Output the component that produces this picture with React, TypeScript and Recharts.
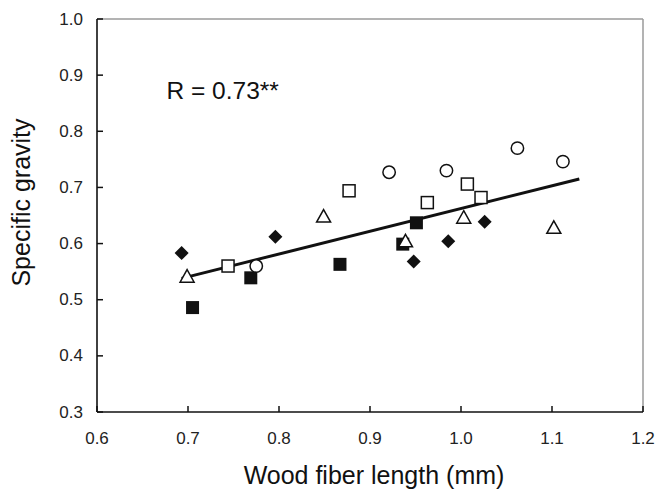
import React from 'react';
import {
  ScatterChart,
  Scatter,
  XAxis,
  YAxis,
  ReferenceLine,
  Label,
  Customized,
} from 'recharts';

const filledDiamonds = [
  { x: 0.693, y: 0.583 },
  { x: 0.796, y: 0.612 },
  { x: 0.948, y: 0.568 },
  { x: 0.986, y: 0.604 },
  { x: 1.026, y: 0.639 },
];

const filledSquares = [
  { x: 0.705, y: 0.486 },
  { x: 0.769, y: 0.539 },
  { x: 0.867, y: 0.563 },
  { x: 0.936, y: 0.599 },
  { x: 0.951, y: 0.637 },
];

const openSquares = [
  { x: 0.744, y: 0.56 },
  { x: 0.877, y: 0.694 },
  { x: 0.963, y: 0.673 },
  { x: 1.007, y: 0.706 },
  { x: 1.022, y: 0.682 },
];

const openCircles = [
  { x: 0.775, y: 0.56 },
  { x: 0.921, y: 0.727 },
  { x: 0.984, y: 0.73 },
  { x: 1.062, y: 0.77 },
  { x: 1.112, y: 0.746 },
];

const openTriangles = [
  { x: 0.699, y: 0.542 },
  { x: 0.849, y: 0.649 },
  { x: 0.939, y: 0.605 },
  { x: 1.003, y: 0.647 },
  { x: 1.102, y: 0.629 },
];

// regression line end points
const fitLine = [
  { x: 0.693, y: 0.538 },
  { x: 1.13, y: 0.715 },
];

const xTicks = [0.6, 0.7, 0.8, 0.9, 1.0, 1.1, 1.2];
const yTicks = [0.3, 0.4, 0.5, 0.6, 0.7, 0.8, 0.9, 1.0];

const FONT = '"Liberation Sans", Arial, sans-serif';
const INK = '#111';

const FilledDiamond = ({ cx, cy }: any) => (
  <polygon
    points={`${cx},${cy - 7} ${cx + 7},${cy} ${cx},${cy + 7} ${cx - 7},${cy}`}
    fill={INK}
  />
);

const FilledSquare = ({ cx, cy }: any) => (
  <rect x={cx - 6.5} y={cy - 6.5} width={13} height={13} fill={INK} />
);

const OpenSquare = ({ cx, cy }: any) => (
  <rect
    x={cx - 6}
    y={cy - 6}
    width={12}
    height={12}
    fill="#fff"
    stroke={INK}
    strokeWidth={1.5}
  />
);

const OpenCircle = ({ cx, cy }: any) => (
  <circle cx={cx} cy={cy} r={6.2} fill="#fff" stroke={INK} strokeWidth={1.5} />
);

const OpenTriangle = ({ cx, cy }: any) => (
  <polygon
    points={`${cx},${cy - 6.5} ${cx + 7},${cy + 6} ${cx - 7},${cy + 6}`}
    fill="#fff"
    stroke={INK}
    strokeWidth={1.5}
    strokeLinejoin="miter"
  />
);

const XTick = ({ x, y, payload }: any) => (
  <g>
    <line x1={x} y1={y} x2={x} y2={y - 6} stroke={INK} strokeWidth={1.5} />
    <text
      x={x}
      y={y + 32}
      textAnchor="middle"
      fontSize={17}
      fontFamily={FONT}
      fill="#222"
    >
      {Number(payload.value).toFixed(1)}
    </text>
  </g>
);

const YTick = ({ x, y, payload }: any) => (
  <g>
    <line x1={x} y1={y} x2={x + 6} y2={y} stroke={INK} strokeWidth={1.5} />
    <text
      x={x - 14}
      y={y + 5.5}
      textAnchor="end"
      fontSize={17}
      fontFamily={FONT}
      fill="#222"
    >
      {Number(payload.value).toFixed(1)}
    </text>
  </g>
);

const Annotation = () => (
  <text x={166.5} y={98.5} fontSize={24.5} fontFamily={FONT} fill={INK}>
    R = 0.73**
  </text>
);

export default function App() {
  return (
    <div style={{ position: 'absolute', left: 0, top: 0, background: '#fff' }}>
      <ScatterChart
        width={660}
        height={493}
        margin={{ top: 19, right: 17, bottom: 0, left: 0 }}
      >
        <ReferenceLine y={1.0} stroke="#9a9a9a" strokeWidth={1.5} />
        <ReferenceLine x={1.2} stroke="#9a9a9a" strokeWidth={1.5} />
        <XAxis
          type="number"
          dataKey="x"
          domain={[0.6, 1.2]}
          ticks={xTicks}
          allowDataOverflow
          height={81}
          tickSize={0}
          tickMargin={0}
          tickLine={false}
          tick={<XTick />}
          axisLine={{ stroke: INK, strokeWidth: 1.6 }}
        >
          <Label
            content={() => (
              <text
                x={374}
                y={484}
                textAnchor="middle"
                fontSize={25}
                fontFamily={FONT}
                fill={INK}
              >
                Wood fiber length (mm)
              </text>
            )}
          />
        </XAxis>
        <YAxis
          type="number"
          dataKey="y"
          domain={[0.3, 1.0]}
          ticks={yTicks}
          allowDataOverflow
          width={97}
          tickSize={0}
          tickMargin={0}
          tickLine={false}
          tick={<YTick />}
          axisLine={{ stroke: INK, strokeWidth: 1.6 }}
        >
          <Label
            content={() => (
              <text
                x={30}
                y={202.5}
                transform="rotate(-90, 30, 202.5)"
                textAnchor="middle"
                fontSize={25}
                fontFamily={FONT}
                fill={INK}
              >
                Specific gravity
              </text>
            )}
          />
        </YAxis>
        <Scatter
          data={filledSquares}
          shape={(p: any) => <FilledSquare {...p} />}
          isAnimationActive={false}
        />
        <Scatter
          data={filledDiamonds}
          shape={(p: any) => <FilledDiamond {...p} />}
          isAnimationActive={false}
        />
        <Scatter
          data={openSquares}
          shape={(p: any) => <OpenSquare {...p} />}
          isAnimationActive={false}
        />
        <Scatter
          data={openCircles}
          shape={(p: any) => <OpenCircle {...p} />}
          isAnimationActive={false}
        />
        <Scatter
          data={openTriangles}
          shape={(p: any) => <OpenTriangle {...p} />}
          isAnimationActive={false}
        />
        <ReferenceLine
          segment={fitLine}
          stroke={INK}
          strokeWidth={3}
        />
        <Customized component={Annotation} />
      </ScatterChart>
    </div>
  );
}
